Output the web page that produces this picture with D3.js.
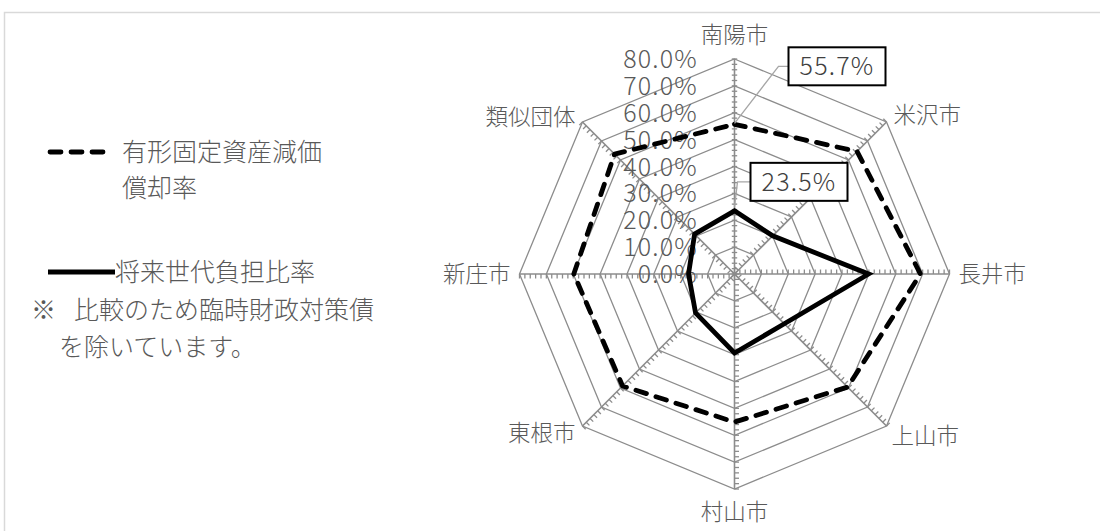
<!DOCTYPE html>
<html><head><meta charset="utf-8">
<script src="https://cdn.jsdelivr.net/npm/d3@7"></script>
<style>
html,body{margin:0;padding:0;background:#fff;}
svg{display:block;}
text{font-family:"Noto Sans CJK JP","Noto Sans",sans-serif;}
</style></head>
<body>
<svg id="chart" width="1100" height="531"></svg>
<script>
const categories = ["南陽市","米沢市","長井市","上山市","村山市","東根市","新庄市","類似団体"];
const depreciation = [55.7, 64.5, 69.2, 59.5, 55.1, 58.9, 59.8, 63.1];
const futureBurden = [23.5, 20.1, 49.9, 26.2, 29.4, 20.5, 17.1, 21.0];
const tickValues = [0,10,20,30,40,50,60,70,80];
const tickLabels = ["0.0%","10.0%","20.0%","30.0%","40.0%","50.0%","60.0%","70.0%","80.0%"];
const seriesNames = ["有形固定資産減価","償却率"];
const seriesNames2 = ["将来世代負担比率"];
const noteMark = "※";
const noteLines = ["比較のため臨時財政対策債","を除いています。"];

const svg = d3.select("#chart");
const cx = 734.5, cy = 274;
const r = d3.scaleLinear().domain([0,80]).range([0,215]);
const n = categories.length;
const ang = d3.scaleLinear().domain([0,n]).range([0,2*Math.PI]);
const pt = (i,v) => [cx + r(v)*Math.sin(ang(i)), cy - r(v)*Math.cos(ang(i))];

// frame
svg.append("rect").attr("x",4.5).attr("y",12.5).attr("width",1200).attr("height",600)
  .attr("fill","none").attr("stroke","#d9d9d9").attr("stroke-width",1.5);

const grid = svg.append("g");
const gridColor = "#8c8c8c";
tickValues.forEach(v=>{
  if(v===0) return;
  const pts = d3.range(n).map(i=>pt(i,v));
  grid.append("path").attr("d", d3.line()(pts)+"Z").attr("fill","none")
    .attr("stroke",gridColor).attr("stroke-width",1.3);
});
d3.range(n).forEach(i=>{
  const [x2,y2] = pt(i,80);
  grid.append("line").attr("x1",cx).attr("y1",cy).attr("x2",x2).attr("y2",y2)
    .attr("stroke",gridColor).attr("stroke-width",1.6);
  const dx = Math.sin(ang(i)), dy = -Math.cos(ang(i));
  const px = dy, py = -dx;
  const both = (i===0);
  d3.range(0,81,2).forEach(v=>{
    const [x,y] = pt(i,v);
    const L = 4.5;
    grid.append("line")
      .attr("x1", both ? x - px*L*0.6 : x).attr("y1", both ? y - py*L*0.6 : y)
      .attr("x2", x + px*(both?L*0.6:L)).attr("y2", y + py*(both?L*0.6:L))
      .attr("stroke",gridColor).attr("stroke-width",1.3);
  });
});

svg.append("g").selectAll("text").data(tickValues).join("text")
  .attr("x", 698).attr("y", d=>cy - r(d)).attr("dy","0.36em")
  .attr("text-anchor","end").attr("fill","#595959")
  .style("font-size","25px").style("letter-spacing","1.2px").style("font-weight","300")
  .text((d,i)=>tickLabels[i]);

const lineGen = d3.line().x(d=>d[0]).y(d=>d[1]);
const closed = vals => lineGen(vals.map((v,i)=>pt(i,v))) + "Z";
svg.append("path").attr("d", closed(depreciation)).attr("fill","none")
  .attr("stroke","#000").attr("stroke-width",4.8).attr("stroke-dasharray","11,10")
  .attr("stroke-linecap","round").attr("stroke-linejoin","round");
svg.append("path").attr("d", closed(futureBurden)).attr("fill","none")
  .attr("stroke","#000").attr("stroke-width",4.8).attr("stroke-linejoin","miter");

const labelPos = [
  {dx:0, dy:-24, anchor:"middle"},
  {dx:7, dy:-7, anchor:"start"},
  {dx:9, dy:0, anchor:"start"},
  {dx:5, dy:10, anchor:"start"},
  {dx:0, dy:23, anchor:"middle"},
  {dx:-7, dy:7, anchor:"end"},
  {dx:-9, dy:0, anchor:"end"},
  {dx:-7, dy:-5, anchor:"end"}
];
svg.append("g").selectAll("text").data(categories).join("text")
  .attr("x",(d,i)=>pt(i,80)[0]+labelPos[i].dx)
  .attr("y",(d,i)=>pt(i,80)[1]+labelPos[i].dy)
  .attr("dy","0.36em").attr("text-anchor",(d,i)=>labelPos[i].anchor)
  .attr("fill","#595959").style("font-size","22.5px").style("font-weight","300").text(d=>d);

function dataLabel(v, bx, by, bw, bh, leader){
  const g = svg.append("g");
  g.append("path").attr("d", d3.line()(leader)).attr("fill","none")
    .attr("stroke","#a6a6a6").attr("stroke-width",1.3);
  g.append("rect").attr("x",bx).attr("y",by).attr("width",bw).attr("height",bh)
    .attr("fill","#fff").attr("stroke","#000").attr("stroke-width",2);
  g.append("text").attr("x",bx+bw/2).attr("y",by+bh/2).attr("dy","0.36em")
    .attr("text-anchor","middle").attr("fill","#404040")
    .style("font-size","25px").style("letter-spacing","1.2px").style("font-weight","300")
    .text(d3.format(".1f")(v)+"%");
}
{
  const [x,y] = pt(0, depreciation[0]);
  dataLabel(depreciation[0], x+54, y-77, 97, 38, [[x,y-1],[x+44,y-58],[x+54,y-58]]);
}
{
  const [x,y] = pt(0, futureBurden[0]);
  dataLabel(futureBurden[0], x+16, y-48, 97, 38, [[x,y-4],[x+3,y-29],[x+16,y-29]]);
}

const leg = svg.append("g");
leg.append("line").attr("x1",50).attr("x2",106).attr("y1",152).attr("y2",152)
  .attr("stroke","#000").attr("stroke-width",4.8).attr("stroke-dasharray","11,10")
  .attr("stroke-linecap","round");
leg.selectAll("text.s1").data(seriesNames).join("text").attr("class","s1")
  .attr("x",122).attr("y",(d,i)=>152+i*36).attr("dy","0.36em")
  .attr("fill","#595959").style("font-size","25px").style("font-weight","300").text(d=>d);
leg.append("line").attr("x1",48).attr("x2",115).attr("y1",272).attr("y2",272)
  .attr("stroke","#000").attr("stroke-width",4.8);
leg.selectAll("text.s2").data(seriesNames2).join("text").attr("class","s2")
  .attr("x",115).attr("y",272).attr("dy","0.36em")
  .attr("fill","#595959").style("font-size","25px").style("font-weight","300").text(d=>d);
const note = leg.append("text").attr("x",31).attr("y",310).attr("dy","0.36em")
  .attr("fill","#595959").style("font-size","25px").style("font-weight","300");
note.append("tspan").text(noteMark);
note.append("tspan").attr("x",74).text(noteLines[0]);
leg.append("text").attr("x",59).attr("y",347).attr("dy","0.36em")
  .attr("fill","#595959").style("font-size","25px").style("font-weight","300")
  .text(noteLines[1]);
</script>
</body></html>
